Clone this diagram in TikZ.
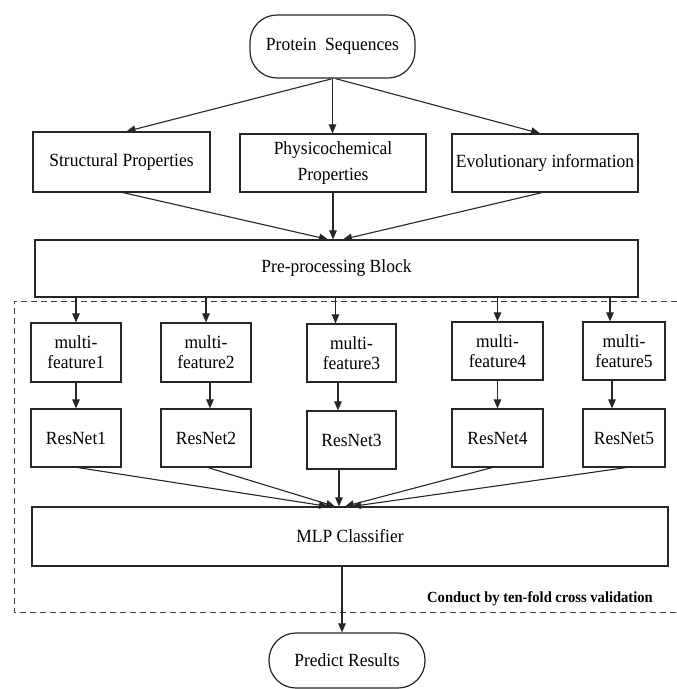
\documentclass[tikz,border=0pt]{standalone}
\usepackage{fontspec}
\setmainfont{Liberation Serif}[FakeStretch=0.94]
\usetikzlibrary{arrows.meta,calc}
\begin{document}
\begin{tikzpicture}[x=1pt,y=-1pt,
 box/.style={draw=black!85,line width=1.2pt,rectangle,inner sep=0pt,align=center,font=\fontsize{18.6}{20}\selectfont},
 term/.style={box,rounded corners=27pt},
 arr/.style={draw=black!85,line width=1.1pt,-{Triangle[length=9pt,width=7.5pt]}},
 frame/.style={draw=black!75,line width=1pt,dash pattern=on 6pt off 4pt},
]
\useasboundingbox (0,0) rectangle (677,689);
% top
\node[term,minimum width=165pt,minimum height=63pt] (prot) at (332.5,46.5) {Protein\ \ Sequences};
\node[box,minimum width=177pt,minimum height=60pt] (struct) at (121.5,162) {Structural Properties};
\node[box,minimum width=186pt,minimum height=58pt,font=\fontsize{18.6}{26}\selectfont] (phys) at (333,163) {Physicochemical\\Properties};
\node[box,minimum width=186pt,minimum height=58pt] (evol) at (545,163) {Evolutionary information};
\node[box,minimum width=603pt,minimum height=57pt] (pre) at (336.5,268.5) {Pre-processing Block};
% multi-feature row
\node[box,minimum width=90pt,minimum height=59pt] (mf1) at (76,352.5) {multi-\\feature1};
\node[box,minimum width=90pt,minimum height=59pt] (mf2) at (206,352.5) {multi-\\feature2};
\node[box,minimum width=89pt,minimum height=58pt] (mf3) at (351.5,353) {multi-\\feature3};
\node[box,minimum width=91pt,minimum height=58pt] (mf4) at (497.5,351) {multi-\\feature4};
\node[box,minimum width=82pt,minimum height=58pt] (mf5) at (624,351) {multi-\\feature5};
% resnet row
\node[box,minimum width=90pt,minimum height=58pt] (rn1) at (76,438) {ResNet1};
\node[box,minimum width=90pt,minimum height=58pt] (rn2) at (206,438) {ResNet2};
\node[box,minimum width=89pt,minimum height=58pt] (rn3) at (351.5,440) {ResNet3};
\node[box,minimum width=91pt,minimum height=58pt] (rn4) at (497.5,438) {ResNet4};
\node[box,minimum width=82pt,minimum height=58pt] (rn5) at (624,438) {ResNet5};
% classifier
\node[box,minimum width=636pt,minimum height=59pt] (mlp) at (350,536.5) {MLP Classifier};
\node[term,minimum width=156pt,minimum height=55pt] (pred) at (347,660.5) {Predict Results};
% dashed frame
\draw[frame] (677,301) -- (14,301) -- (14,612) -- (677,612);
\node[anchor=east,inner sep=0pt,font=\fontsize{15.5}{17}\selectfont\bfseries] (cv) at (653,599) {Conduct by ten-fold cross validation};
% arrows top
\draw[arr] (prot.south) -- ($(struct.north)+(5,0)$);
\draw[arr] (prot.south) -- (prot.south |- phys.north);
\draw[arr] ($(prot.south)+(3,0)$) -- ($(evol.north)+(-5,0)$);
\draw[arr] ($(struct.south)+(1.5,0)$) -- ($(pre.north)+(-8.5,0)$);
\draw[arr] (phys.south) -- (phys.south |- pre.north);
\draw[arr] ($(evol.south)+(-3,0)$) -- ($(pre.north)+(6.5,0)$);
% pre -> multi-feature
\draw[arr] (mf1.north |- pre.south) -- (mf1.north);
\draw[arr] (mf2.north |- pre.south) -- (mf2.north);
\draw[arr] ($(mf3.north |- pre.south)+(-16,0)$) -- ($(mf3.north)+(-16,0)$);
\draw[arr] (mf4.north |- pre.south) -- (mf4.north);
\draw[arr] ($(mf5.north |- pre.south)+(-14,0)$) -- ($(mf5.north)+(-14,0)$);
% multi-feature -> resnet
\draw[arr] (mf1.south) -- (rn1.north);
\draw[arr] ($(mf2.south)+(4,0)$) -- ($(rn2.north)+(4,0)$);
\draw[arr] ($(mf3.south)+(-13.5,0)$) -- ($(rn3.north)+(-13.5,0)$);
\draw[arr] (mf4.south) -- (rn4.north);
\draw[arr] ($(mf5.south)+(-12,0)$) -- ($(rn5.north)+(-12,0)$);
% resnet -> mlp
\draw[arr] ($(rn1.south)+(2,0)$) -- ($(mlp.north)+(-22,0)$);
\draw[arr] ($(rn2.south)+(2,0)$) -- ($(mlp.north)+(-15,0)$);
\draw[arr] ($(rn3.south)+(-12.5,0)$) -- ($(mlp.north)+(-11,0)$);
\draw[arr] ($(rn4.south)+(-5.5,0)$) -- ($(mlp.north)+(-5,0)$);
\draw[arr] ($(rn5.south)+(2,0)$) -- ($(mlp.north)+(2,0)$);
% mlp -> predict
\draw[arr] ($(mlp.south)+(-8,0)$) -- ($(pred.north)+(-5,0)$);
\end{tikzpicture}
\end{document}
